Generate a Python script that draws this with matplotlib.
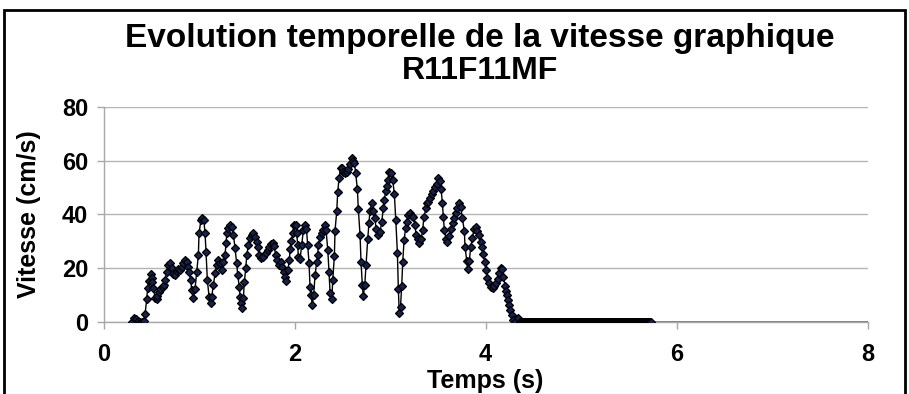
import numpy as np
import matplotlib.pyplot as plt
from matplotlib.patches import Rectangle

plt.rcParams["font.family"] = ["Liberation Sans", "DejaVu Sans"]

# ── données ──────────────────────────────────────────────────────────
TITLE_LINES = ["Evolution temporelle de la vitesse graphique", "R11F11MF"]
X_LABEL = "Temps (s)"
Y_LABEL = "Vitesse (cm/s)"
X_TICKS = [0, 2, 4, 6, 8]
Y_TICKS = [0, 20, 40, 60, 80]

time_s = [
    0.300, 0.320, 0.340, 0.360, 0.380, 0.400, 0.420, 0.435, 0.452, 0.462,
    0.476, 0.494, 0.505, 0.512, 0.522, 0.540, 0.555, 0.565, 0.580, 0.595,
    0.620, 0.635, 0.644, 0.662, 0.680, 0.695, 0.714, 0.730, 0.749, 0.765,
    0.784, 0.800, 0.819, 0.836, 0.853, 0.870, 0.880, 0.895, 0.913, 0.923,
    0.940, 0.958, 0.976, 0.993, 1.000, 1.020, 1.035, 1.050, 1.063, 1.073,
    1.087, 1.105, 1.122, 1.132, 1.150, 1.168, 1.185, 1.200, 1.220, 1.238,
    1.255, 1.272, 1.283, 1.290, 1.307, 1.325, 1.342, 1.360, 1.377, 1.394,
    1.405, 1.422, 1.430, 1.437, 1.453, 1.464, 1.475, 1.489, 1.500, 1.517,
    1.534, 1.552, 1.569, 1.587, 1.604, 1.620, 1.632, 1.650, 1.674, 1.698,
    1.720, 1.737, 1.754, 1.770, 1.785, 1.803, 1.820, 1.838, 1.855, 1.872,
    1.890, 1.905, 1.915, 1.930, 1.946, 1.953, 1.968, 1.980, 1.995, 2.012,
    2.022, 2.033, 2.040, 2.058, 2.075, 2.093, 2.110, 2.125, 2.137, 2.152,
    2.162, 2.172, 2.187, 2.200, 2.215, 2.232, 2.242, 2.250, 2.267, 2.284,
    2.300, 2.320, 2.330, 2.348, 2.361, 2.372, 2.390, 2.400, 2.417, 2.424,
    2.442, 2.452, 2.466, 2.483, 2.500, 2.510, 2.530, 2.550, 2.562, 2.580,
    2.600, 2.613, 2.626, 2.640, 2.658, 2.668, 2.686, 2.696, 2.710, 2.720,
    2.735, 2.749, 2.766, 2.780, 2.790, 2.808, 2.825, 2.843, 2.853, 2.870,
    2.895, 2.913, 2.930, 2.940, 2.955, 2.965, 2.976, 2.993, 3.010, 3.028,
    3.045, 3.060, 3.077, 3.087, 3.097, 3.110, 3.122, 3.133, 3.147, 3.163,
    3.175, 3.190, 3.210, 3.225, 3.244, 3.262, 3.272, 3.290, 3.307, 3.325,
    3.342, 3.355, 3.377, 3.390, 3.401, 3.418, 3.436, 3.453, 3.471, 3.488,
    3.506, 3.520, 3.534, 3.548, 3.558, 3.569, 3.586, 3.600, 3.618, 3.639,
    3.656, 3.673, 3.687, 3.705, 3.726, 3.742, 3.757, 3.778, 3.785, 3.803,
    3.813, 3.830, 3.845, 3.862, 3.880, 3.896, 3.914, 3.930, 3.950, 3.965,
    3.977, 3.990, 4.005, 4.019, 4.035, 4.054, 4.075, 4.093, 4.110, 4.127,
    4.140, 4.159, 4.175, 4.187, 4.204, 4.215, 4.222, 4.235, 4.246, 4.260,
    4.274, 4.290, 4.310, 4.343, 4.360,
]
speed_cms = [
    0.0, 1.5, 1.2, 0.3, 0.0, 0.2, 0.5, 3.1, 8.6, 12.8,
    15.4, 17.9, 16.5, 15.0, 12.6, 9.1, 8.6, 9.8, 11.4, 12.2,
    13.0, 13.8, 15.7, 18.5, 21.3, 21.9, 20.0, 18.1, 17.5, 19.1,
    19.8, 19.4, 20.6, 21.9, 23.1, 22.5, 20.6, 18.8, 15.7, 12.0,
    8.9, 12.3, 18.8, 25.0, 33.0, 38.0, 38.6, 38.0, 33.0, 26.2,
    15.7, 9.5, 7.0, 9.5, 13.8, 18.2, 21.3, 23.1, 21.9, 19.4,
    22.2, 25.0, 29.3, 33.0, 34.9, 36.1, 35.5, 32.4, 27.5, 21.9,
    17.6, 13.0, 9.5, 7.0, 5.2, 9.0, 15.1, 20.0, 25.0, 28.7,
    31.2, 32.4, 33.0, 31.6, 29.9, 28.0, 25.0, 23.7, 24.4, 25.6,
    26.8, 28.1, 29.0, 29.3, 28.3, 25.0, 23.1, 21.3, 22.4, 20.6,
    18.5, 16.9, 15.4, 19.4, 23.1, 27.1, 30.0, 33.2, 36.1, 36.1,
    33.2, 28.7, 24.4, 23.4, 28.7, 34.3, 36.1, 34.5, 28.7, 21.9,
    13.2, 10.1, 6.4, 10.1, 17.5, 22.5, 25.0, 28.7, 31.8, 33.0,
    34.3, 36.1, 34.3, 26.8, 18.8, 10.8, 8.5, 15.7, 24.6, 34.0,
    41.3, 48.2, 53.4, 57.1, 57.1, 55.7, 55.5, 55.9, 56.9, 58.8,
    60.8, 60.0, 59.2, 55.3, 49.4, 41.9, 32.4, 22.5, 13.8, 9.8,
    13.8, 21.3, 30.8, 36.7, 41.4, 44.2, 41.4, 38.6, 34.5, 32.4,
    33.6, 37.3, 42.3, 45.4, 48.8, 50.5, 52.8, 55.9, 55.5, 52.8,
    47.6, 38.0, 25.8, 12.2, 3.3, 5.8, 13.6, 22.5, 30.5, 34.9,
    37.3, 39.8, 40.4, 39.6, 39.2, 36.1, 32.4, 30.8, 29.3, 30.8,
    34.3, 39.2, 42.3, 44.2, 44.7, 46.3, 47.6, 48.8, 50.3, 51.5,
    53.4, 52.6, 49.4, 44.4, 39.0, 34.3, 30.8, 29.9, 32.0, 34.5,
    36.7, 38.6, 40.6, 42.3, 44.2, 42.7, 38.6, 34.0, 28.0, 22.9,
    19.7, 22.9, 27.8, 31.4, 34.5, 35.3, 34.0, 32.4, 29.9, 27.8,
    25.3, 22.5, 19.4, 16.3, 14.5, 13.0, 12.6, 13.5, 14.5, 16.0,
    18.2, 20.0, 19.7, 16.9, 13.5, 11.7, 10.1, 8.3, 6.4, 4.6,
    2.7, 0.9, 0.0, 1.5, 0.0,
]

# phase d'arrêt : vitesse nulle, échantillons réguliers jusqu'à 5.73 s
rest_start, rest_end, rest_step = 4.37, 5.73, 0.01
trace_end = 8.0   # la courbe (sans marqueur) continue à 0 jusqu'à 8 s

t_rest = np.arange(rest_start, rest_end + 1e-9, rest_step)
t = np.concatenate([time_s, t_rest, [trace_end]])
v = np.concatenate([speed_cms, np.zeros(len(t_rest)), [0.0]])

# ── figure ───────────────────────────────────────────────────────────
fig = plt.figure(figsize=(9.09, 3.94), dpi=100)
ax = fig.add_axes([0.1139, 0.182, 0.8405, 0.5472])

ax.plot(t, v, color="black", linewidth=1.0, marker="D", markersize=4.3,
        markerfacecolor="#16224d", markeredgecolor="black",
        markeredgewidth=0.9, markevery=slice(0, len(t) - 1), zorder=3)

ax.set_xlim(0, 8)
ax.set_ylim(0, 80)
ax.set_xticks(X_TICKS)
ax.set_yticks(Y_TICKS)
ax.grid(axis="y", color="#b4b4b4", linewidth=1.0, zorder=0)
ax.set_axisbelow(True)
for side in ("top", "right"):
    ax.spines[side].set_visible(False)
for side in ("left", "bottom"):
    ax.spines[side].set_color("#a8a8a8")
    ax.spines[side].set_linewidth(1.0)
ax.tick_params(direction="out", length=5, width=1, color="#a8a8a8",
               labelsize=17)
ax.tick_params(axis="x", pad=10)
ax.tick_params(axis="y", pad=6)
for lab in ax.get_xticklabels() + ax.get_yticklabels():
    lab.set_fontweight("bold")

ax.set_xlabel(X_LABEL, fontsize=18, fontweight="bold")
ax.set_ylabel(Y_LABEL, fontsize=18, fontweight="bold")
ax.xaxis.set_label_coords(0.5, -0.215)
ax.yaxis.set_label_coords(-0.082, 0.5)

fig.text(480 / 909, 1 - 38 / 394, TITLE_LINES[0], ha="center", va="center",
         fontsize=24, fontweight="bold")
fig.text(480 / 909, 1 - 71 / 394, TITLE_LINES[1], ha="center", va="center",
         fontsize=23, fontweight="bold")

# cadre de la zone graphique
fig.patches.append(Rectangle((4 / 909, -0.1), 901 / 909, 1.1 - 10 / 394,
                             transform=fig.transFigure, fill=False,
                             edgecolor="black", linewidth=2))

fig.savefig("out.png", dpi=100)
